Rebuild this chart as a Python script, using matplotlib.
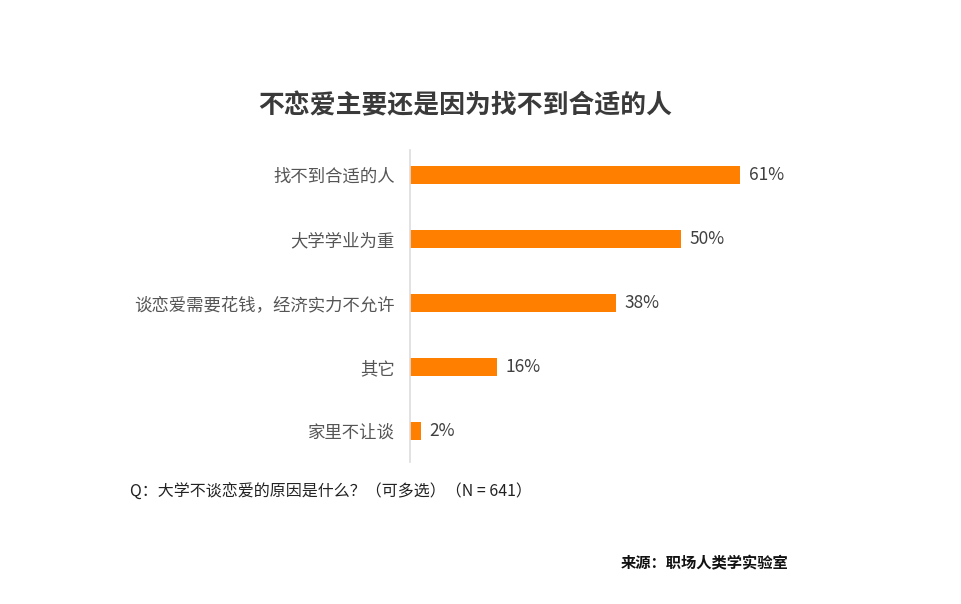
import matplotlib
matplotlib.use('Agg')
import matplotlib.pyplot as plt

plt.rcParams['font.family'] = ['Noto Sans CJK SC', 'DejaVu Sans']

# data
categories = ['找不到合适的人', '大学学业为重', '谈恋爱需要花钱，经济实力不允许', '其它', '家里不让谈']
values = [61, 50, 38, 16, 2]

TITLE = '不恋爱主要还是因为找不到合适的人'
QUESTION = 'Q：大学不谈恋爱的原因是什么？（可多选）（N = 641）'
SOURCE = '来源：职场人类学实验室'

BAR_COLOR = '#FF8000'

fig = plt.figure(figsize=(9.62, 6.04), dpi=100)
ax = fig.add_axes([410 / 962, 1 - 462 / 604, 538 / 962, 312 / 604])

ypos = list(range(len(categories)))
ax.barh(ypos, values, height=0.28, color=BAR_COLOR)
ax.set_xlim(0, 99.3)
ax.set_ylim(4 + 31 / 64, -25 / 64)

for y, v in zip(ypos, values):
    ax.text(v + 1.6, y, f'{v}%', va='center', ha='left', fontsize=12.5, color='#404040')

ax.set_yticks(ypos)
ax.set_yticklabels(categories, fontsize=12.5, color='#555555')
ax.tick_params(axis='y', length=0, pad=11)
ax.set_xticks([])
for side in ['top', 'right', 'bottom']:
    ax.spines[side].set_visible(False)
ax.spines['left'].set_color('#dddddd')
ax.spines['left'].set_linewidth(1.2)

fig.text(465 / 962, 1 - 106 / 604, TITLE, ha='center', va='center',
         fontsize=18.6, fontweight='bold', color='#3a3a3a')
fig.text(130 / 962, 1 - 492 / 604, QUESTION, ha='left', va='center',
         fontsize=11.5, color='#222222')
fig.text(788 / 962, 1 - 563 / 604, SOURCE, ha='right', va='center',
         fontsize=11, fontweight='bold', color='#111111')

fig.savefig('out.png', dpi=100, facecolor='white')
